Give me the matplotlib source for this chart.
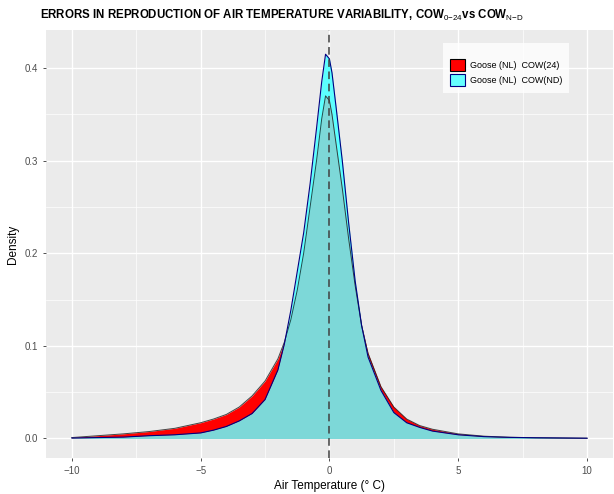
import numpy as np
import matplotlib
matplotlib.use('Agg')
import matplotlib.pyplot as plt
from matplotlib.patches import Patch

plt.rcParams['font.family'] = ['Liberation Sans', 'DejaVu Sans']
plt.rcParams['mathtext.fontset'] = 'custom'
plt.rcParams['mathtext.rm'] = 'Liberation Sans'
plt.rcParams['mathtext.it'] = 'Liberation Sans'

# density estimates of temperature error (deg C)
temp = [-10, -9, -8, -7, -6, -5, -4.5, -4, -3.5, -3, -2.5, -2, -1.75, -1.5, -1.25, -1,
        -0.75, -0.5, -0.3, -0.15, 0, 0.1, 0.25, 0.5, 0.75, 1, 1.25, 1.5, 2, 2.5,
        3, 3.5, 4, 5, 6, 7, 8, 10]
cow24 = [0.001, 0.003, 0.005, 0.0075, 0.011, 0.017, 0.021, 0.026, 0.034, 0.046, 0.062, 0.086,
         0.104, 0.128, 0.16, 0.2, 0.25, 0.3, 0.345, 0.37, 0.365, 0.35, 0.32, 0.27, 0.215,
         0.165, 0.122, 0.092, 0.056, 0.034, 0.021, 0.014, 0.01, 0.005, 0.0025, 0.0013,
         0.0008, 0.0003]
cownd = [0.0005, 0.001, 0.0015, 0.003, 0.004, 0.006, 0.009, 0.013, 0.019, 0.027, 0.042, 0.074,
         0.102, 0.138, 0.18, 0.222, 0.275, 0.335, 0.385, 0.415, 0.41, 0.395, 0.36, 0.30, 0.232,
         0.17, 0.122, 0.088, 0.052, 0.028, 0.017, 0.012, 0.008, 0.004, 0.002, 0.0012,
         0.0008, 0.0003]
labels = ['Goose (NL)  COW(24)', 'Goose (NL)  COW(ND)']

x = np.array(temp)
y1 = np.array(cow24)
y2 = np.array(cownd)

fig = plt.figure(figsize=(6.14, 4.94), dpi=100)
ax = fig.add_axes([0.075, 0.073, 0.923, 0.866])
ax.set_facecolor('#EBEBEB')

# grid, ggplot style
for v in [-7.5, -2.5, 2.5, 7.5]:
    ax.axvline(v, color='white', lw=0.5, zorder=0)
for v in [-10, -5, 0, 5, 10]:
    ax.axvline(v, color='white', lw=1.0, zorder=0)
for v in [0.05, 0.15, 0.25, 0.35]:
    ax.axhline(v, color='white', lw=0.5, zorder=0)
for v in [0.0, 0.1, 0.2, 0.3, 0.4]:
    ax.axhline(v, color='white', lw=1.0, zorder=0)

ax.fill_between(x, 0, y1, color='red', lw=0, zorder=2)
ax.fill_between(x, 0, y2, color='#5CFFFF', lw=0, zorder=3)
ax.fill_between(x, 0, np.minimum(y1, y2), color='#7DD8D8', lw=0, zorder=4)
ax.plot(x, y1, color='#1a1a1a', lw=0.7, alpha=0.8, zorder=5)
ax.plot(x, y2, color='#000080', lw=0.8, zorder=6)

ax.axvline(0, color='#404040', lw=1.1, dashes=(5, 3), zorder=7)

ax.set_xlim(-11, 11)
ax.set_ylim(-0.021, 0.441)
ax.set_xticks([-10, -5, 0, 5, 10])
ax.set_yticks([0.0, 0.1, 0.2, 0.3, 0.4])
ax.set_yticklabels(['0.0', '0.1', '0.2', '0.3', '0.4'])
ax.tick_params(colors='#333333', labelcolor='#4D4D4D', labelsize=7, length=2.5, width=0.6)
for s in ax.spines.values():
    s.set_visible(False)

ax.set_xlabel('Air Temperature (° C)', fontsize=8.5, labelpad=3)
ax.set_ylabel('Density', fontsize=8.5, labelpad=4)

fig.text(0.065, 0.968,
         r'ERRORS IN REPRODUCTION OF AIR TEMPERATURE VARIABILITY, COW$_{0{-}24}$vs COW$_{N{-}D}$',
         fontsize=8.3, fontweight='bold', va='center', ha='left')

handles = [Patch(facecolor='red', edgecolor='black', lw=0.8),
           Patch(facecolor='#66FFFF', edgecolor='#000080', lw=0.8)]
leg = ax.legend(handles, labels, loc='upper left', bbox_to_anchor=(443 / 614, 1 - 43 / 494),
                bbox_transform=fig.transFigure, borderaxespad=0, frameon=True, fancybox=False,
                fontsize=6.5, handlelength=1.66, handleheight=1.66, handletextpad=0.6,
                labelspacing=0.3, borderpad=0.75, title=' ', title_fontsize=5)
leg.get_frame().set_edgecolor('white')
leg.get_frame().set_facecolor('white')
leg.get_frame().set_linewidth(0)

fig.savefig('out.png', dpi=100)
